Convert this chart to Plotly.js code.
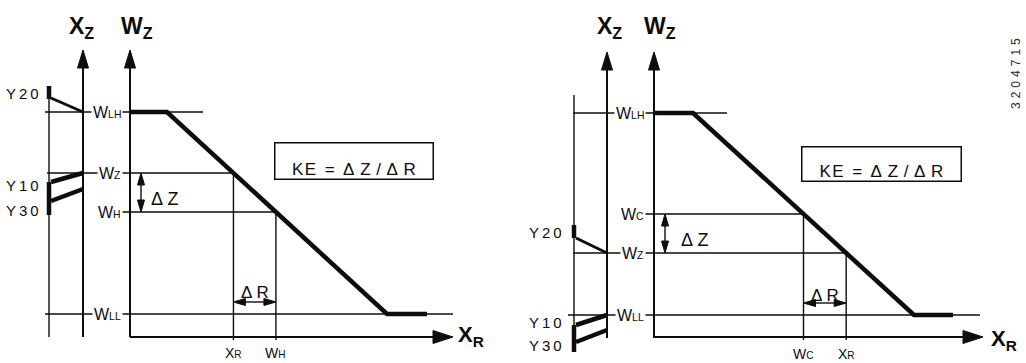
<!DOCTYPE html>
<html><head><meta charset="utf-8">
<script src="https://cdn.plot.ly/plotly-3.0.1.min.js"></script>
<style>html,body{margin:0;padding:0;background:#fff;}#chart{width:1026px;height:363px;}</style>
</head><body><div id="chart"></div>
<script>
// ================= DATA (units = px, origin at W_Z / X_R axis crossing) =================
// ---- Left diagram ----
const L_curveX = [0, 37, 257, 297];          // characteristic W_Z(X_R)
const L_curveY = [225, 225, 23, 23];
const L_levelNames = ['LH', 'Z', 'H', 'LL'];  // W_LH, W_Z, W_H, W_LL
const L_levelY = [225, 164, 125, 23];
const L_levelFrom = [-85, -83, -10, -85];
const L_levelTo = [73, null, null, 323];      // null: line ends on the curve
const L_dropLevels = [1, 2];                  // levels whose curve point drops to the X_R axis
const L_dropNames = [['X', 'R'], ['W', 'H']];
const L_yNames = ['Y20', 'Y10', 'Y30'];
const L_yFrom = [239, 155, 136];              // at the Y bar
const L_yTo = [225, 164, 148];                // at the X_Z axis
const L_yLabelY = [244, 152, 127];
const L_yMarks = [[251, 238], [155, 122]];

// ---- Right diagram ----
const R_curveX = [0, 39, 260, 299];
const R_curveY = [224, 224, 22, 22];
const R_levelNames = ['LH', 'C', 'Z', 'LL'];  // W_LH, W_C, W_Z, W_LL
const R_levelY = [224, 123, 84, 22];
const R_levelFrom = [-81, -10, -81, -86];
const R_levelTo = [73, null, null, 326];
const R_dropLevels = [1, 2];
const R_dropNames = [['W', 'C'], ['X', 'R']];
const R_yNames = ['Y20', 'Y10', 'Y30'];
const R_yFrom = [99, 12, -5];
const R_yTo = [84, 22, 7];
const R_yLabelY = [105, 15, -8];
const R_yMarks = [[112, 99], [12, -15]];

const KE_TEXT = 'K\u200aE\u2002=\u2002\u0394\u2004Z\u2004/\u2004\u0394\u2004R';
const DOC_ID = '3204715';

// ================= geometry / style =================
const INK = '#0d0d0d';
const FONT = '"Liberation Sans", Arial, Helvetica, sans-serif';

const L_geo = {xzX: -47, ybarX: -81, yTop: 251, yBottom: 0, axisBottom: 0, axisTop: 287, xrEnd: 323,
  labelRight: -7, dzX: 11, dzLabelX: 19, drY: 35, drLabelY: 45, dropLabelY: -16,
  box: {x: 223.5, y: 176.5, w: 157, h: 35}, titleX: [-63, -11], titleY: 310, xrLabel: [326, 1],
  yLabelRight: -89};
const R_geo = {xzX: -47, ybarX: -80, yTop: 242, yBottom: -15, axisBottom: -1, axisTop: 285, xrEnd: 329,
  labelRight: -8, dzX: 11, dzLabelX: 25, drY: 34, drLabelY: 42, dropLabelY: -17,
  box: {x: 227, y: 173.5, w: 158, h: 33}, titleX: [-59, -12], titleY: 310, xrLabel: [335, -3],
  yLabelRight: -90};
const Y_WIDTHS = [3, 4.5, 4.5];

function interpX(cx, cy, y) {
  for (let i = 0; i < cx.length - 1; i++) {
    const y0 = cy[i], y1 = cy[i + 1];
    if (y0 !== y1 && (y - y0) * (y - y1) <= 0) return cx[i] + (y - y0) / (y1 - y0) * (cx[i + 1] - cx[i]);
  }
  return null;
}

function buildDiagram(D, G, ax) {
  const T = [], A = [];
  const ln = (x, y, w) => T.push({type: 'scatter', mode: 'lines', x, y, xaxis: ax, yaxis: 'y',
    line: {color: INK, width: w}, hoverinfo: 'skip', showlegend: false});
  const hd = (tx, ty, dir, len, hw) => {
    let xs, ys;
    if (dir === 'up') { xs = [tx, tx - hw, tx + hw, tx]; ys = [ty, ty - len, ty - len, ty]; }
    else if (dir === 'down') { xs = [tx, tx - hw, tx + hw, tx]; ys = [ty, ty + len, ty + len, ty]; }
    else if (dir === 'right') { xs = [tx, tx - len, tx - len, tx]; ys = [ty, ty - hw, ty + hw, ty]; }
    else { xs = [tx, tx + len, tx + len, tx]; ys = [ty, ty - hw, ty + hw, ty]; }
    T.push({type: 'scatter', mode: 'lines', x: xs, y: ys, xaxis: ax, yaxis: 'y', fill: 'toself',
      fillcolor: INK, line: {color: INK, width: 1}, hoverinfo: 'skip', showlegend: false});
  };
  const txt = (text, x, y, size, o) => A.push(Object.assign({xref: ax, yref: 'y', x, y, text,
    showarrow: false, font: {family: FONT, size, color: INK}, xanchor: 'center', yanchor: 'middle'}, o || {}));
  const sc = s => s.split('').join('\u2009');

  // axes with arrowheads
  ln([0, 0], [G.axisBottom, G.axisTop - 8], 2); hd(0, G.axisTop, 'up', 18, 5.5);
  ln([G.xzX, G.xzX], [G.axisBottom, G.axisTop - 8], 2); hd(G.xzX, G.axisTop, 'up', 18, 5.5);
  ln([0, G.xrEnd - 8], [0, 0], 2); hd(G.xrEnd, 0, 'right', 20, 6.5);

  // level lines + labels
  D.levelY.forEach((y, i) => {
    const end = D.levelTo[i] !== null ? D.levelTo[i] : interpX(D.curveX, D.curveY, y);
    ln([D.levelFrom[i], end], [y, y], 1.4);
    txt('W<span style="font-size:65%">' + D.levelNames[i] + '</span>', G.labelRight, y, 16,
      {xanchor: 'right', bgcolor: 'white', borderpad: 1});
  });

  // curve
  ln(D.curveX, D.curveY, 4.5);

  // drop lines to the X_R axis
  const dx = D.dropLevels.map(li => interpX(D.curveX, D.curveY, D.levelY[li]));
  D.dropLevels.forEach((li, k) => {
    ln([dx[k], dx[k]], [D.levelY[li], -3], 1.4);
    txt(D.dropNames[k][0] + '<span style="font-size:72%">' + D.dropNames[k][1] + '</span>', dx[k], G.dropLabelY, 14);
  });

  // ΔZ arrow
  const ya = D.levelY[D.dropLevels[0]], yb = D.levelY[D.dropLevels[1]];
  ln([G.dzX, G.dzX], [ya - 8, yb + 8], 1.4);
  hd(G.dzX, ya, 'up', 12, 3.5); hd(G.dzX, yb, 'down', 12, 3.5);
  txt('\u0394\u2005Z', G.dzLabelX, (ya + yb) / 2 - 6, 18, {xanchor: 'left'});

  // ΔR arrow
  ln([dx[0] + 8, dx[1] - 8], [G.drY, G.drY], 1.4);
  hd(dx[0], G.drY, 'left', 12, 3.5); hd(dx[1], G.drY, 'right', 12, 3.5);
  txt('\u0394\u2005R', (dx[0] + dx[1]) / 2, G.drLabelY, 17);

  // X_Z side: Y bar, marks, switching lines, labels
  ln([G.ybarX, G.ybarX], [G.yTop, G.yBottom], 1.4);
  D.yMarks.forEach(m => ln([G.ybarX, G.ybarX], m, 4.5));
  D.yNames.forEach((n, i) => {
    ln([G.ybarX + 2, G.xzX], [D.yFrom[i], D.yTo[i]], Y_WIDTHS[i]);
    txt(sc(n), G.yLabelRight, D.yLabelY[i], 15, {xanchor: 'right'});
  });

  // KE box
  A.push({xref: ax, yref: 'y', x: G.box.x, y: G.box.y, text: KE_TEXT, showarrow: false,
    width: G.box.w, height: G.box.h, bordercolor: INK, borderwidth: 1.5, borderpad: 0,
    bgcolor: 'white', valign: 'bottom', font: {family: FONT, size: 17, color: INK}});

  // axis titles
  txt('<b>X<sub>Z</sub></b>', G.titleX[0], G.titleY, 23, {xanchor: 'left'});
  txt('<b>W<sub>Z</sub></b>', G.titleX[1], G.titleY, 23, {xanchor: 'left'});
  txt('<b>X<sub>R</sub></b>', G.xrLabel[0], G.xrLabel[1], 22, {xanchor: 'left'});
  return {T, A};
}

const left = buildDiagram({curveX: L_curveX, curveY: L_curveY, levelNames: L_levelNames, levelY: L_levelY,
  levelFrom: L_levelFrom, levelTo: L_levelTo, dropLevels: L_dropLevels, dropNames: L_dropNames,
  yNames: L_yNames, yFrom: L_yFrom, yTo: L_yTo, yLabelY: L_yLabelY, yMarks: L_yMarks}, L_geo, 'x');
const right = buildDiagram({curveX: R_curveX, curveY: R_curveY, levelNames: R_levelNames, levelY: R_levelY,
  levelFrom: R_levelFrom, levelTo: R_levelTo, dropLevels: R_dropLevels, dropNames: R_dropNames,
  yNames: R_yNames, yFrom: R_yFrom, yTo: R_yTo, yLabelY: R_yLabelY, yMarks: R_yMarks}, R_geo, 'x2');

const annotations = left.A.concat(right.A);
annotations.push({xref: 'x2', yref: 'y', x: 362, y: 263, text: DOC_ID.split('').join('\u2004'), textangle: -90,
  showarrow: false, font: {family: FONT, size: 12, color: '#2a2a2a'}});

const layout = {
  width: 1026, height: 363, margin: {l: 0, r: 0, t: 0, b: 0},
  paper_bgcolor: 'white', plot_bgcolor: 'white', showlegend: false,
  xaxis: {domain: [0, 510 / 1026], range: [-130, 380], visible: false, fixedrange: true},
  xaxis2: {domain: [510 / 1026, 1], range: [-144, 372], visible: false, fixedrange: true, anchor: 'y'},
  yaxis: {range: [-26, 337], visible: false, fixedrange: true},
  annotations
};
Plotly.newPlot('chart', left.T.concat(right.T), layout, {displayModeBar: false, staticPlot: true});
</script></body></html>
